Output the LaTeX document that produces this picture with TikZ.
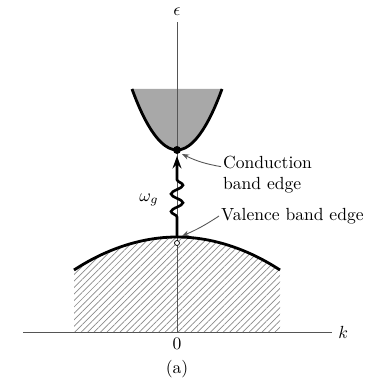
\documentclass[tikz,border=0pt]{standalone}
\usetikzlibrary{arrows.meta,positioning,patterns.meta,decorations.pathmorphing}
\definecolor{bandgray}{HTML}{A8A8A8}
\definecolor{hatchgray}{HTML}{8A8A8A}
\definecolor{axisgray}{HTML}{555555}

\begin{document}
\begin{tikzpicture}[
  x=0.02cm, y=-0.02cm,
  >=Stealth,
  axis/.style={draw=axisgray, line width=0.5pt},
  band/.style={draw=black, line width=1.6pt},
  hatch/.style={pattern={Lines[angle=45, distance=2.6pt, line width=0.4pt]}, pattern color=hatchgray},
  photon/.style={-{Stealth[length=7pt, width=5pt]}, draw=black, line width=1.5pt, decorate,
    decoration={snake, amplitude=3.4pt, segment length=10pt, pre length=0.4cm, post length=0.4cm}},
  lead/.style={-{Stealth[length=4pt]}, draw=axisgray, line width=0.5pt},
  lbl/.style={inner sep=1pt, align=left}
]
  \useasboundingbox (0,0) rectangle (377,381);
  \coordinate (cmin) at (177,150);
  \coordinate (vmax) at (177,237);
  \coordinate (ctip) at (182,154);
  \coordinate (vtip) at (182,236);
  % filled bands
  \fill[bandgray] (132,89) parabola bend (cmin) (222,89) -- cycle;
  \fill[hatch] (74,332) -- (74,270) parabola bend (vmax) (280,270) -- (280,332) -- cycle;
  % axes
  \coordinate (o) at (177,332);
  \draw[axis] (23,332) -- (332,332) node[right] (k) {$k$};
  \draw[axis] (o) -- (177,22) node[above] (eps) {$\epsilon$};
  \node[below] (zero) at (o) {0};
  \node (cap) at (177,369) {(a)};
  % band curves
  \draw[band] (132,89) parabola bend (cmin) (222,89);
  \draw[band] (74,270) parabola bend (vmax) (280,270);
  % transition
  \draw[photon] (vmax) -- (177,156);
  \node (wg) at (149,200) {$\omega_g$};
  \fill (cmin) circle[radius=4];
  \draw[fill=white, line width=0.4pt] (177,243) circle[radius=2.5];
  % labels
  \node[lbl, anchor=west] (cbe) at (221,175) {Conduction\\band edge};
  \node[lbl, anchor=west] (vbe) at (219,216) {Valence band edge};
  \draw[lead] ([yshift=-7pt]cbe.north west) to[bend left=8] (ctip);
  \draw[lead] (vbe.west) to[bend left=5] (vtip);
\end{tikzpicture}
\end{document}
